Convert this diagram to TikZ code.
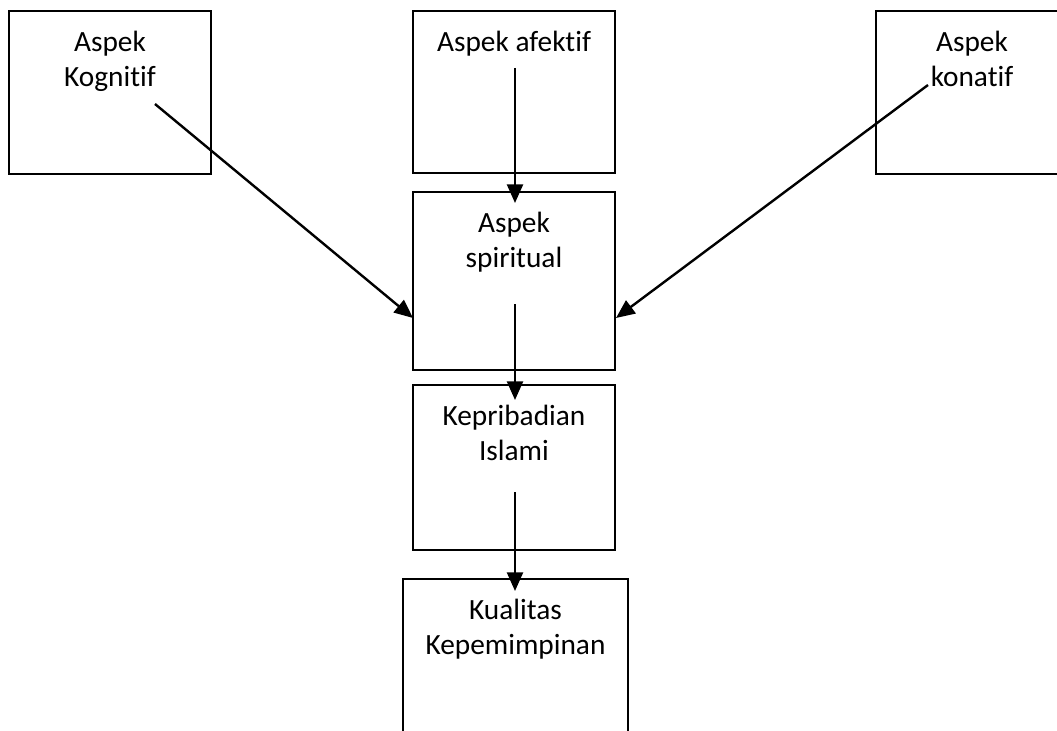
\documentclass[tikz,border=0pt]{standalone}
\usepackage{fontspec}
\setmainfont{Carlito}[RawFeature={-liga;-calt;-clig;-dlig}]
\usetikzlibrary{arrows.meta}
\begin{document}
\begin{tikzpicture}[x=0.75pt,y=-0.75pt,
  box/.style={draw, line width=0.9pt, inner sep=0pt},
  txt/.style={anchor=north, align=center, inner sep=0pt, font=\fontsize{22}{26.4}\selectfont},
  arr/.style={line width=1.8pt, -{Triangle[length=14pt,width=12pt]}}]
\useasboundingbox (0,0) rectangle (1057,731);
\clip (0,0) rectangle (1057,731);
% boxes
\node[box, minimum width=151.5pt, minimum height=122.25pt] (kog) at (110,92.5) {};
\node[box, minimum width=151.5pt, minimum height=121.5pt] (afe) at (514,92) {};
\node[box, minimum width=240pt, minimum height=122.25pt] (kon) at (1036,92.5) {};
\node[box, minimum width=151.5pt, minimum height=133.5pt] (spi) at (514,281) {};
\node[box, minimum width=151.5pt, minimum height=123.75pt] (kep) at (514,467.5) {};
\node[box, minimum width=168.75pt, minimum height=180pt] (kua) at (515.5,699) {};
% texts
\node[txt] (tkog) at (110,31) {Aspek\\Kognitif};
\node[txt] (tafe) at (514,31) {Aspek afektif};
\node[txt] (tkon) at (972,31) {Aspek\\konatif};
\node[txt] (tspi) at (514,212) {Aspek\\spiritual};
\node[txt] (tkep) at (514,405) {Kepribadian\\Islami};
\node[txt] (tkua) at (515.5,599) {Kualitas\\Kepemimpinan};
% connector end points
\coordinate (s1) at (155,104);
\coordinate (e1) at (413,318);
\coordinate (s2) at (515,68);
\coordinate (e2) at (515,203);
\coordinate (s3) at (928,85);
\coordinate (e3) at (616,318);
\coordinate (s4) at (515,304);
\coordinate (e4) at (515,400);
\coordinate (s5) at (515,492);
\coordinate (e5) at (515,591);
\draw[arr] (s1) -- (e1);
\draw[arr] (s2) -- (e2);
\draw[arr] (s3) -- (e3);
\draw[arr] (s4) -- (e4);
\draw[arr] (s5) -- (e5);
\end{tikzpicture}
\end{document}
